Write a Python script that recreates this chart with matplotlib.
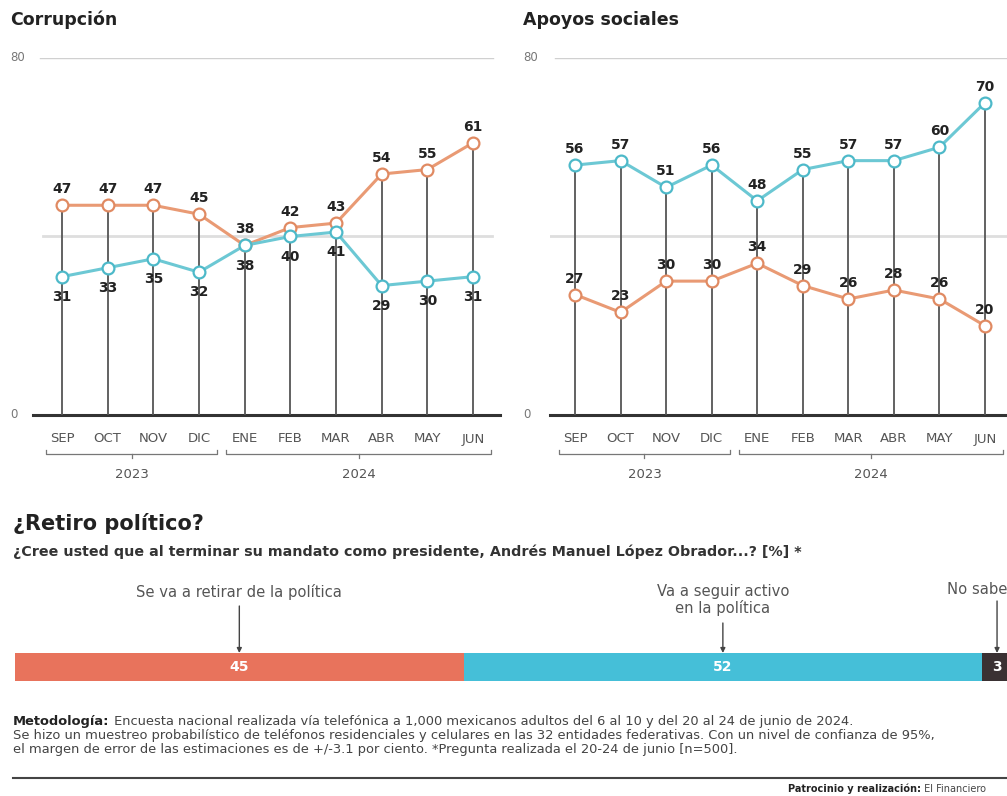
import matplotlib
matplotlib.use('Agg')
import matplotlib.pyplot as plt
from matplotlib.transforms import blended_transform_factory as btf

# ---------------- data ----------------
months = ['SEP', 'OCT', 'NOV', 'DIC', 'ENE', 'FEB', 'MAR', 'ABR', 'MAY', 'JUN']
years = ['2023', '2024']
corr_orange = [47, 47, 47, 45, 38, 42, 43, 54, 55, 61]
corr_cyan = [31, 33, 35, 32, 38, 40, 41, 29, 30, 31]
apo_cyan = [56, 57, 51, 56, 48, 55, 57, 57, 60, 70]
apo_orange = [27, 23, 30, 30, 34, 29, 26, 28, 26, 20]
y_ticks = [0, 80]
retiro_labels = ['Se va a retirar de la política', 'Va a seguir activo\nen la política', 'No sabe']
retiro_vals = [45, 52, 3]

ORANGE = '#E99A74'
ORANGE_E = '#E08A62'
CYAN = '#6CC8D4'
CYAN_E = '#4DB9C9'
STEM = '#555555'
DARK = '#222222'
GRAY = '#555555'

W, H = 1007, 796
plt.rcParams['font.family'] = ['DejaVu Sans']
fig = plt.figure(figsize=(W / 100, H / 100), dpi=100)
fig.patch.set_facecolor('white')

ov = fig.add_axes([0, 0, 1, 1], zorder=5)
ov.set_xlim(0, W)
ov.set_ylim(H, 0)
ov.axis('off')


def px_axes(x0, y0, x1, y1, **kw):
    return fig.add_axes([x0 / W, 1 - y1 / H, (x1 - x0) / W, (y1 - y0) / H], **kw)


def draw_chart(x0, x1, first_px, last_px, title, title_x, ylab_x, grid80, grid40,
               series):
    ax = px_axes(x0, 58, x1, 415)
    step = (last_px - first_px) / 9.0
    ax.set_xlim(-(first_px - x0) / step, 9 + (x1 - last_px) / step)
    ax.set_ylim(0, 80)
    ax.axis('off')
    xs = list(range(len(months)))
    w = x1 - x0
    # gridlines
    ax.axhline(80, xmin=(grid80[0] - x0) / w, xmax=(grid80[1] - x0) / w,
               color='#d0d0d0', lw=1.0, zorder=0)
    ax.axhline(40, xmin=(grid40[0] - x0) / w, xmax=(grid40[1] - x0) / w,
               color='#dedede', lw=2.0, zorder=0)
    ax.axhline(0, color='#333333', lw=2.2, zorder=1, clip_on=False)
    # stems
    tops = [max(v) for v in zip(*[s[0] for s in series])]
    ax.vlines(xs, 0, tops, color=STEM, lw=1.3, zorder=2)
    # series
    for vals, col, ecol, above in series:
        ax.plot(xs, vals, color=col, lw=2.2, zorder=3, clip_on=False)
        ax.plot(xs, vals, 'o', ms=8.5, mfc='white', mec=ecol, mew=1.6,
                zorder=4, clip_on=False)
        for x, v in zip(xs, vals):
            off = 11.5 if above else -14.5
            ax.annotate(str(v), (x, v), xytext=(0, off), textcoords='offset points',
                        ha='center', va='center', fontsize=10, fontweight='bold',
                        color=DARK, zorder=6)
    # y tick labels
    tr_y = btf(ov.transData, ax.transData)
    for t in y_ticks:
        ov.text(ylab_x, t, str(t), transform=tr_y, ha='left', va='center',
                fontsize=8.5, color='#777777')
    # month labels
    tr_x = btf(ax.transData, ov.transData)
    for x, m in zip(xs, months):
        ov.text(x, 439, m, transform=tr_x, ha='center', va='center',
                fontsize=9.5, color=GRAY)
    # year brackets
    spans = [(-0.35, 3.4), (3.6, 9.4)]
    for (a, b), yr in zip(spans, years):
        c = (a + b) / 2
        ov.plot([a, a, b, b], [450, 454, 454, 450], transform=tr_x, color='#777777',
                lw=0.9, clip_on=False)
        ov.plot([c, c], [454, 458], transform=tr_x, color='#777777', lw=0.9,
                clip_on=False)
        ov.text(c, 474, yr, transform=tr_x, ha='center', va='center',
                fontsize=9.5, color=GRAY)
    ov.text(title_x, 20, title, ha='left', va='center', fontsize=12.5,
            fontweight='bold', color=DARK)
    return ax


draw_chart(33, 500, 62, 473, 'Corrupción', 10, 10, (40, 493), (43, 492),
           [(corr_orange, ORANGE, ORANGE_E, True), (corr_cyan, CYAN, CYAN_E, False)])
draw_chart(550, 1007, 575, 985, 'Apoyos sociales', 523, 523, (555, 1007), (548, 1007),
           [(apo_cyan, CYAN, CYAN_E, True), (apo_orange, ORANGE, ORANGE_E, True)])

# ---------------- bottom section ----------------
ov.text(13, 523, '¿Retiro político?', ha='left', va='center', fontsize=15,
        fontweight='bold', color=DARK)
ov.text(13, 552, '¿Cree usted que al terminar su mandato como presidente, '
        'Andrés Manuel López Obrador...? [%] *', ha='left', va='center',
        fontsize=10.3, fontweight='bold', color='#333333')

bax = px_axes(15, 653, 1012, 681)
bax.set_xlim(0, 100)
bax.set_ylim(-0.5, 0.5)
bax.axis('off')
bar_cols = ['#E8735C', '#45BFD8', '#3A3133']
left = 0
centers = []
for v, c in zip(retiro_vals, bar_cols):
    bax.barh(0, v, left=left, height=1, color=c, edgecolor='none')
    centers.append(left + v / 2)
    bax.text(left + v / 2, 0, str(v), ha='center', va='center', color='white',
             fontsize=10, fontweight='bold')
    left += v

trb = btf(bax.transData, ov.transData)
label_pos = [(0, 592, 'center', 606), (0, 600, 'center', 623), (-50, 590, 'left', 601)]
for (dx, ty, ha, ay), lab, cx in zip(label_pos, retiro_labels, centers):
    if ha == 'left':
        disp = trb.transform((cx, 0))[0]
        xpix = ov.transData.inverted().transform((disp, 0))[0] + dx
        ov.text(xpix, ty, lab, ha='left', va='center', fontsize=10.6, color=GRAY)
    else:
        ov.text(cx, ty, lab, transform=trb, ha='center', va='center', fontsize=10.6,
                color=GRAY, linespacing=1.15)
    ov.annotate('', xy=(cx, 653), xytext=(cx, ay), xycoords=trb, textcoords=trb,
                arrowprops=dict(arrowstyle='-|>', color='#444444', lw=1.0,
                                mutation_scale=7, shrinkA=0, shrinkB=0))

# methodology
meth = [('Metodología:', ' Encuesta nacional realizada vía telefónica a 1,000 mexicanos '
         'adultos del 6 al 10 y del 20 al 24 de junio de 2024.'),
        ('', 'Se hizo un muestreo probabilístico de teléfonos residenciales y celulares '
         'en las 32 entidades federativas. Con un nivel de confianza de 95%,'),
        ('', 'el margen de error de las estimaciones es de +/-3.1 por ciento. '
         '*Pregunta realizada el 20-24 de junio [n=500].')]
for i, (b, r) in enumerate(meth):
    y = 722 + 13.5 * i
    if b:
        tb = ov.text(13, y, b, ha='left', va='center', fontsize=9.4,
                     fontweight='bold', color=DARK)
        ov.annotate(r, xy=(1, 0.5), xycoords=tb, ha='left', va='center',
                    fontsize=9.4, color='#444444')
    else:
        ov.text(13, y, r, ha='left', va='center', fontsize=9.4, color='#444444')

ov.plot([13, W], [778, 778], color='#444444', lw=1.5)
tp = ov.text(788, 789, 'Patrocinio y realización:', ha='left', va='center',
             fontsize=7.0, fontweight='bold', color=DARK)
ov.annotate(' El Financiero', xy=(1, 0.5), xycoords=tp, ha='left', va='center',
            fontsize=7.0, color='#444444')

fig.savefig('out.png', dpi=100, facecolor='white')
